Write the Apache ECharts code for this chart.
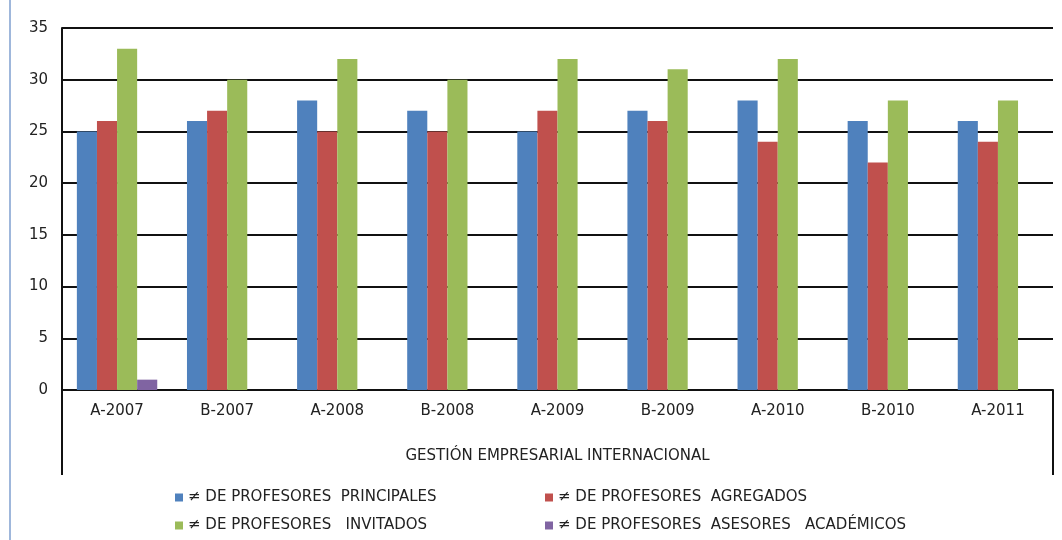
<!DOCTYPE html>
<html>
<head>
<meta charset="utf-8">
<script src="https://cdn.jsdelivr.net/npm/echarts@6/dist/echarts.min.js"></script>
<style>
  html, body { margin: 0; padding: 0; background: #fff; }
  #chart { width: 1062px; height: 540px; }
</style>
</head>
<body>
<div id="chart"></div>
<script>
// categorias y grupo
const periodos = ['A-2007', 'B-2007', 'A-2008', 'B-2008', 'A-2009', 'B-2009', 'A-2010', 'B-2010', 'A-2011']
const grupo = ['GESTIÓN EMPRESARIAL INTERNACIONAL']

// valores
const principales = [25, 26, 28, 27, 25, 27, 28, 26, 26]
const agregados = [26, 27, 25, 25, 27, 26, 24, 22, 24]
const invitados = [33, 30, 32, 30, 32, 31, 32, 28, 28]
const asesores = [1, 0, 0, 0, 0, 0, 0, 0, 0]

const nombres = [
  '≠ DE PROFESORES  PRINCIPALES',
  '≠ DE PROFESORES  AGREGADOS',
  '≠ DE PROFESORES   INVITADOS',
  '≠ DE PROFESORES  ASESORES   ACADÉMICOS'
]
const colores = ['#4F81BD', '#C0504D', '#9BBB59', '#8064A2']
const valores = [principales, agregados, invitados, asesores]

const font = 'DejaVu Sans'
const chart = echarts.init(document.getElementById('chart'))

const option = {
  animation: false,
  textStyle: { fontFamily: font },
  grid: { left: 62, right: 9, top: 28, bottom: 150 },
  legend: [
    {
      orient: 'vertical',
      left: 170,
      top: 485,
      itemWidth: 8,
      itemHeight: 8,
      itemGap: 13,
      icon: 'rect',
      textStyle: { fontFamily: font, fontSize: 15, color: '#222' },
      data: [nombres[0], nombres[2]]
    },
    {
      orient: 'vertical',
      left: 540,
      top: 485,
      itemWidth: 8,
      itemHeight: 8,
      itemGap: 13,
      icon: 'rect',
      textStyle: { fontFamily: font, fontSize: 15, color: '#222' },
      data: [nombres[1], nombres[3]]
    }
  ],
  xAxis: [
    {
      type: 'category',
      data: periodos,
      axisLine: { lineStyle: { color: '#111', width: 2 } },
      axisTick: { show: false },
      axisLabel: { margin: 14, fontSize: 15, color: '#222', fontFamily: font }
    },
    {
      type: 'category',
      data: grupo,
      position: 'bottom',
      axisLine: { show: false },
      axisTick: { show: true, length: 85, lineStyle: { color: '#111', width: 2 } },
      axisLabel: { margin: 59, fontSize: 15, color: '#222', fontFamily: font }
    }
  ],
  yAxis: {
    type: 'value',
    min: 0,
    max: 35,
    interval: 5,
    axisLine: { show: true, lineStyle: { color: '#111', width: 2 } },
    axisTick: { show: false },
    axisLabel: { margin: 14, fontSize: 15, color: '#222', fontFamily: font },
    splitLine: { lineStyle: { color: '#111', width: 2 } }
  },
  series: valores.map((v, i) => ({
    name: nombres[i],
    type: 'bar',
    xAxisIndex: 0,
    data: v,
    barGap: '0%',
    barCategoryGap: '27%',
    itemStyle: { color: colores[i] }
  })),
  graphic: [
    {
      type: 'line',
      shape: { x1: 10, y1: 0, x2: 10, y2: 540 },
      style: { stroke: '#7f9fcf', lineWidth: 1.5 }
    }
  ]
}

chart.setOption(option)
</script>
</body>
</html>
